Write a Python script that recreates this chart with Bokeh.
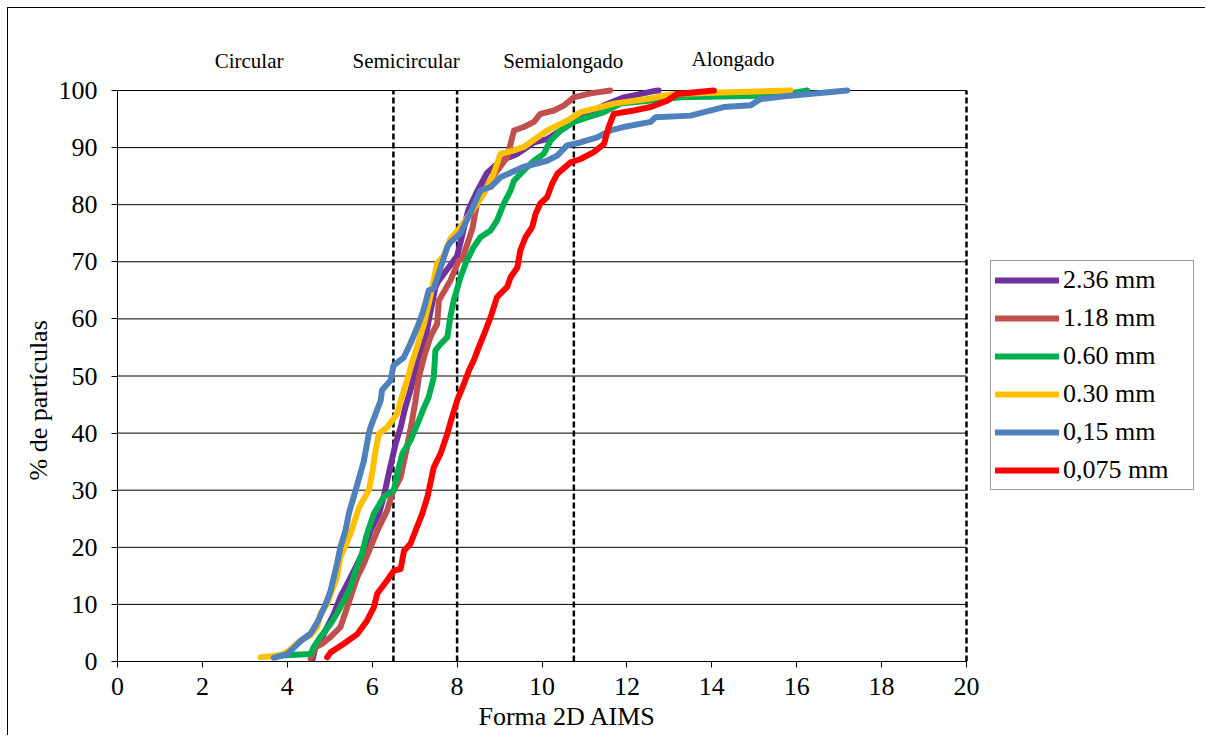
from bokeh.plotting import figure
from bokeh.models import Legend, LegendItem, FixedTicker, Range1d, Title
from bokeh.core.properties import value
from bokeh.embed import file_html
from bokeh.resources import INLINE

# ---------------- data ----------------
series_names = ["2.36 mm", "1.18 mm", "0.60 mm", "0.30 mm", "0,15 mm", "0,075 mm"]
series_colors = ["#7030A0", "#C0504D", "#00B050", "#FFC000", "#4F81BD", "#FF0000"]

x_236 = [4.6, 4.66, 4.74, 4.94, 5.1, 5.25, 5.37, 5.61, 5.8, 5.96, 6.16, 6.27, 6.39, 6.55, 6.67, 6.78,
         6.9, 7.02, 7.14, 7.26, 7.33, 7.41, 7.49, 7.55, 7.8, 8.0, 8.1, 8.26, 8.45, 8.7, 9.02, 9.42,
         9.81, 10.12, 10.44, 10.67, 10.91, 11.46, 11.93, 12.63, 12.75]
y_236 = [0.5, 2.5, 3.1, 6.0, 8.4, 11.3, 13.0, 16.5, 19.4, 22.9, 25.9, 28.8, 32.9, 38.1, 41.0, 44.5,
         47.5, 51.0, 53.9, 56.8, 59.7, 62.6, 65.6, 66.5, 69.0, 71.0, 74.0, 79.0, 82.0, 85.5, 87.7, 88.9,
         90.9, 91.5, 93.0, 94.2, 95.3, 97.4, 98.8, 99.9, 100.0]

x_118 = [4.55, 4.66, 4.82, 5.02, 5.25, 5.41, 5.49, 5.65, 5.8, 5.96, 6.12, 6.35, 6.47, 6.67, 6.82, 6.94,
         7.02, 7.1, 7.22, 7.37, 7.45, 7.53, 7.57, 7.84, 8.04, 8.12, 8.24, 8.36, 8.47, 8.62, 8.9, 9.18,
         9.34, 9.57, 9.81, 9.96, 10.28, 10.52, 10.75, 11.14, 11.61]
y_118 = [0.5, 2.5, 3.1, 4.3, 6.0, 9.5, 11.3, 14.8, 17.1, 20.0, 22.9, 26.4, 29.4, 32.3, 37.5, 42.2,
         45.7, 49.8, 53.3, 56.8, 58.0, 59.1, 63.2, 66.7, 70.2, 70.5, 73.1, 75.8, 80.2, 82.5, 85.5, 88.3,
         93.0, 93.6, 94.5, 95.9, 96.5, 97.4, 98.8, 99.5, 100.0]

x_060 = [3.72, 4.55, 4.62, 4.78, 5.02, 5.17, 5.33, 5.49, 5.61, 5.76, 5.88, 6.04, 6.27, 6.51, 6.59, 6.71,
         6.9, 7.1, 7.22, 7.33, 7.45, 7.49, 7.61, 7.77, 7.84, 7.92, 8.08, 8.2, 8.39, 8.55, 8.79, 8.94,
         9.1, 9.26, 9.34, 9.57, 9.81, 10.04, 10.2, 10.44, 10.75, 11.07, 11.46, 11.85, 12.63, 13.26,
         15.45, 16.01, 16.25]
y_060 = [1.0, 1.3, 2.5, 4.3, 6.6, 8.4, 10.7, 13.0, 15.9, 18.9, 22.4, 25.9, 28.8, 30.0, 32.9, 36.4,
         38.7, 42.2, 44.5, 46.3, 49.8, 54.5, 55.6, 56.8, 60.3, 63.2, 67.3, 69.7, 72.6, 74.3, 75.5, 77.2,
         80.2, 82.5, 84.2, 86.0, 87.7, 88.9, 91.2, 93.0, 94.5, 95.3, 96.2, 97.7, 98.3, 98.8,
         99.1, 99.7, 100.0]

x_030 = [3.37, 3.84, 4.04, 4.31, 4.55, 4.7, 4.78, 4.94, 5.17, 5.25, 5.49, 5.69, 5.92, 6.0, 6.08, 6.16,
         6.35, 6.59, 6.67, 6.82, 6.94, 7.1, 7.22, 7.33, 7.53, 7.69, 7.84, 8.08, 8.36, 8.63, 8.86, 9.02,
         9.34, 9.57, 10.12, 10.59, 10.91, 11.38, 11.69, 12.48, 13.1, 15.85]
y_030 = [0.75, 1.05, 1.9, 3.7, 4.6, 6.0, 8.4, 10.1, 14.8, 18.3, 22.4, 27.0, 30.0, 33.0, 37.0, 39.9,
         41.0, 43.4, 45.7, 49.2, 52.4, 56.2, 59.1, 62.6, 69.7, 71.1, 74.0, 76.1, 79.0, 81.9, 85.4, 88.9,
         89.5, 90.1, 93.0, 94.7, 96.2, 97.1, 97.7, 98.5, 99.4, 100.0]

x_015 = [3.68, 4.0, 4.3, 4.55, 4.73, 4.9, 5.02, 5.17, 5.25, 5.37, 5.45, 5.61, 5.8, 5.92, 5.96, 6.2,
         6.23, 6.43, 6.5, 6.74, 6.9, 7.06, 7.18, 7.26, 7.33, 7.45, 7.77, 7.84, 8.08, 8.32, 8.55, 8.79,
         9.02, 9.56, 10.12, 10.36, 10.59, 10.9, 11.3, 11.61, 11.92, 12.56, 12.67, 13.5, 14.28, 14.91,
         15.15, 15.85, 17.19]
y_015 = [0.65, 1.3, 3.5, 4.9, 7.2, 10.0, 12.4, 17.1, 20.0, 22.9, 25.9, 30.0, 35.0, 39.9, 41.0, 45.7,
         47.5, 49.2, 51.8, 53.2, 55.7, 58.5, 60.9, 62.9, 65.0, 65.3, 72.6, 73.4, 75.0, 78.7, 82.5, 83.1,
         84.8, 86.6, 87.7, 88.6, 90.4, 90.9, 91.8, 93.0, 93.6, 94.5, 95.3, 95.6, 97.1, 97.4,
         98.5, 99.1, 100.0]

x_0075 = [4.94, 5.02, 5.33, 5.65, 5.88, 6.04, 6.12, 6.35, 6.51, 6.67, 6.75, 6.9, 7.02, 7.18, 7.3, 7.45,
          7.61, 7.77, 7.88, 8.0, 8.16, 8.28, 8.39, 8.51, 8.67, 8.79, 8.94, 9.18, 9.26, 9.42, 9.49, 9.61,
          9.77, 9.85, 9.96, 10.12, 10.24, 10.36, 10.67, 10.91, 11.22, 11.46, 11.57, 11.69, 12.16, 12.56,
          12.95, 13.18, 14.05]
y_0075 = [0.75, 1.6, 3.1, 4.8, 7.2, 9.5, 11.9, 14.2, 15.9, 16.2, 19.4, 20.6, 22.9, 25.9, 28.8, 34.0,
          36.4, 39.9, 42.8, 45.7, 48.6, 51.0, 52.7, 55.0, 58.0, 60.3, 63.8, 65.6, 67.3, 69.0, 72.0, 74.3,
          76.1, 78.4, 80.2, 81.3, 83.7, 85.4, 87.4, 88.0, 89.2, 90.6, 93.6, 95.9, 96.5, 97.1,
          98.2, 99.4, 100.0]

series_x = [x_236, x_118, x_060, x_030, x_015, x_0075]
series_y = [y_236, y_118, y_060, y_030, y_015, y_0075]

class_limits = [6.5, 8.0, 10.75, 20.0]
class_names = ["Circular", "Semicircular", "Semialongado", "Alongado"]
class_label_x = [3.1, 6.8, 10.5, 14.5]
class_label_y = [105.1, 105.1, 105.1, 105.6]

x_ticks = [0, 2, 4, 6, 8, 10, 12, 14, 16, 18, 20]
y_ticks = [0, 10, 20, 30, 40, 50, 60, 70, 80, 90, 100]
x_min, x_max = 0, 20
y_min, y_max = 0, 100

x_title = "Forma 2D AIMS"
y_title = "% de partículas"

FONT = "Liberation Serif"

# ---------------- figure ----------------
W, H = 1198, 728
LEFT, BOTTOM = 109, 75
PX_X = 42.45   # px per x unit (from reference)
PX_Y = 5.71    # px per y unit (from reference)

p = figure(width=W, height=H, output_backend="svg", toolbar_location=None,
           x_range=Range1d(x_min, (W - LEFT) / PX_X),
           y_range=Range1d(y_min, (H - BOTTOM) / PX_Y),
           min_border_left=LEFT, min_border_right=0, min_border_top=0, min_border_bottom=BOTTOM)
p.styles = {"margin-left": "7px", "margin-top": "7px",
            "border-left": "1px solid #000000", "border-top": "1px solid #000000"}
p.outline_line_color = None
p.background_fill_color = "white"
p.border_fill_color = "white"
p.grid.visible = False

p.xaxis.ticker = FixedTicker(ticks=x_ticks)
p.yaxis.ticker = FixedTicker(ticks=y_ticks)
p.xaxis.bounds = (x_min, x_max)
p.yaxis.bounds = (y_min, y_max)
for ax in (p.xaxis, p.yaxis):
    ax.axis_line_color = "#000000"
    ax.axis_line_width = 1
    ax.major_tick_line_color = "#000000"
    ax.major_tick_in = 0
    ax.major_tick_out = 6
    ax.minor_tick_line_color = None
    ax.major_label_text_font = FONT
    ax.major_label_text_font_size = "26px"
    ax.major_label_text_color = "#000000"
p.xaxis.major_label_standoff = 10
p.yaxis.major_label_standoff = 14

# axis titles placed as side-panel titles (offset from the plotting area's start)
p.add_layout(Title(text=x_title, align="left", offset=361, vertical_align="middle",
                   text_font=FONT, text_font_size="26px", text_font_style="normal",
                   text_color="#000000", standoff=7), "below")
p.add_layout(Title(text=y_title, align="left", offset=181, vertical_align="middle",
                   text_font=FONT, text_font_size="26px", text_font_style="normal",
                   text_color="#000000", standoff=4), "left")

# horizontal grid lines (only across 0..20)
p.segment(x0=[x_min] * len(y_ticks), x1=[x_max] * len(y_ticks), y0=y_ticks, y1=y_ticks,
          line_color="#000000", line_width=1)

# class limits (dashed verticals)
p.segment(x0=class_limits, x1=class_limits, y0=[y_min] * len(class_limits),
          y1=[y_max] * len(class_limits), line_color="#000000", line_width=2.5, line_dash="6 3")

# class labels above the plot
p.text(x=class_label_x, y=class_label_y, text=class_names, text_font=value(FONT),
       text_font_size="21px", text_color="#000000", text_align="center", text_baseline="middle")

# curves
items = []
for name, col, xs, ys in zip(series_names, series_colors, series_x, series_y):
    r = p.line(xs, ys, line_color=col, line_width=6, line_join="round", line_cap="round")
    items.append(LegendItem(label=name, renderers=[r]))

legend = Legend(items=items, location=(873, 171), orientation="vertical",
                label_text_font=FONT, label_text_font_size="26px", label_text_color="#000000",
                glyph_width=64, glyph_height=30, label_height=30, label_width=126,
                label_standoff=4, spacing=8, padding=4, margin=0,
                border_line_color="#404040", border_line_width=1,
                background_fill_color="white", background_fill_alpha=1.0)
p.add_layout(legend, "center")

open("out.html", "w").write(file_html(p, INLINE))
